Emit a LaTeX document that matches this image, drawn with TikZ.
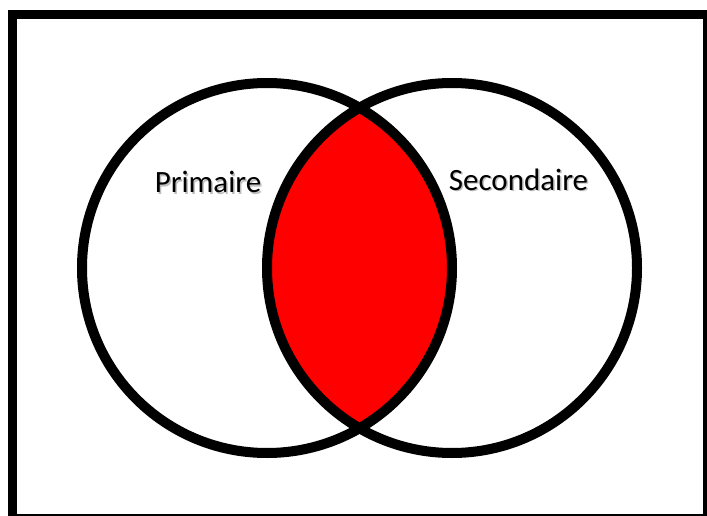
\documentclass[tikz,border=0pt]{standalone}
\usepackage{fontspec}
\newfontfamily\calib{Carlito}
\definecolor{lensred}{RGB}{255,0,0}
\tikzset{
  ring/.style={draw=black, line width=10pt},
  label/.style={font=\calib\fontsize{31}{37}\selectfont, text=black, anchor=base, inner sep=0pt},
  shadowlbl/.style={label, text=black!25}
}
\begin{document}
\begin{tikzpicture}[x=1pt,y=-1pt]
  \useasboundingbox (0,0) rectangle (707,516);
  \clip (0,0) rectangle (707,516);
  % frame
  \fill[black] (8,10) rectangle (712,523);
  \fill[white] (17,19) rectangle (703,514);
  % lens
  \begin{scope}
    \clip (267,268) circle[radius=185];
    \fill[lensred] (452,268) circle[radius=185];
  \end{scope}
  % circles
  \draw[ring] (267,268) circle[radius=185];
  \draw[ring] (452,268) circle[radius=185];
  % labels
  \node[shadowlbl] (ps) at (209.5,194.5) {Primaire};
  \node[shadowlbl] (ss) at (520,191.5) {Secondaire};
  \node[label] (p) at (208,193) {Primaire};
  \node[label] (s) at (518.5,190) {Secondaire};
\end{tikzpicture}
\end{document}
